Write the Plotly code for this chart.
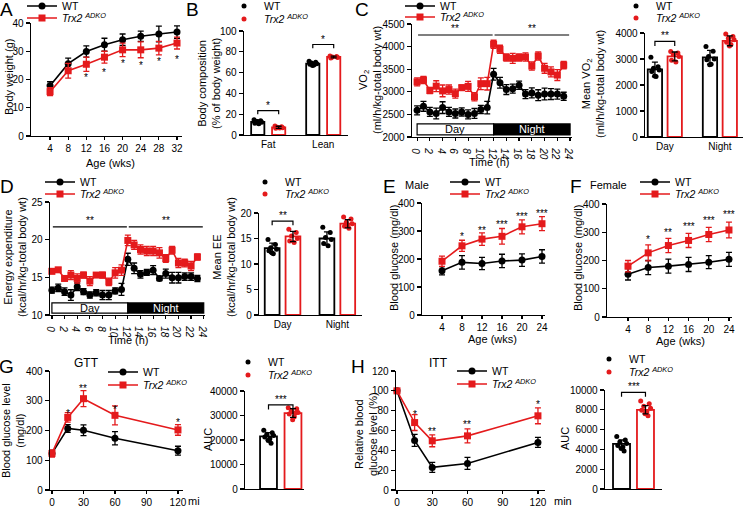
import plotly.graph_objects as go

W, H = 745, 509
FONT = "Arial, 'Liberation Sans', Helvetica, sans-serif"
RED = "#E41A1C"
KO = "<i>Trx2</i> <sup><i>ADKO</i></sup>"

# ---------------- A: body weight ----------------
age_wks = [4, 8, 12, 16, 20, 24, 28, 32]
bw_wt = [17.8, 25.6, 29.9, 32.3, 34.1, 35.3, 36.1, 36.8]
bw_wt_err = [1.4, 2.0, 2.0, 2.3, 2.0, 1.8, 2.8, 2.2]
bw_ko = [15.7, 23.1, 25.4, 27.9, 30.5, 30.5, 31.1, 32.9]
bw_ko_err = [1.4, 2.6, 2.5, 2.1, 2.4, 2.8, 2.4, 2.1]
bw_sig_x = [12, 16, 20, 24, 28, 32]
bw_sig_y = [21.3, 23.2, 26.2, 25.8, 27.0, 27.8]
bw_sig = ["*", "*", "*", "*", "*", "*"]

# ---------------- B: body composition ----------------
comp_cats = ["Fat", "Lean"]
comp_wt = [12.5, 68.6]
comp_wt_sd = [1.6, 1.4]
comp_ko = [7.4, 75.0]
comp_ko_sd = [1.0, 0.9]
comp_wt_pts = [[14.6, 13.8, 12.9, 12.2, 11.4, 10.8, 13.0], [71.0, 70.0, 69.2, 68.5, 68.0, 67.2, 66.8]]
comp_ko_pts = [[8.6, 8.0, 7.5, 7.0, 6.6, 6.8], [76.0, 75.5, 75.0, 74.4, 74.0]]
comp_sig = ["*", "*"]
comp_sig_y = [23.5, 87.0]

# ---------------- C / D: hourly time course ----------------
hours = list(range(24))
light_periods = ["Day", "Night"]
light_start = [0, 12]
light_end = [12, 24]
vo2_wt = [2590, 2680, 2555, 2520, 2650, 2555, 2520, 2555, 2500, 2520, 2610, 2650,
          3390, 3200, 3050, 3070, 3145, 2950, 2975, 2925, 2950, 2950, 2950, 2900]
vo2_wt_err = [100, 110, 100, 120, 130, 100, 100, 90, 100, 110, 90, 140,
              130, 120, 110, 100, 90, 100, 110, 120, 130, 120, 110, 90]
vo2_ko = [3220, 3260, 3030, 3125, 3020, 3050, 2960, 3090, 3120, 2890, 3180, 3180,
          4050, 3940, 3760, 3740, 3760, 3770, 3570, 3790, 3520, 3440, 3370, 3590]
vo2_ko_err = [90, 80, 70, 120, 130, 100, 100, 60, 110, 90, 130, 140,
              90, 90, 80, 110, 80, 90, 90, 90, 110, 110, 120, 80]
vo2_period_sig = ["**", "**"]
vo2_period_sig_y = 4257

ee_wt = [13.3, 13.6, 13.1, 12.65, 13.75, 13.1, 12.65, 12.95, 12.65, 12.65, 13.2, 13.4,
         17.4, 16.2, 15.4, 15.65, 15.95, 14.85, 15.5, 14.95, 14.95, 15.1, 15.1, 14.85]
ee_wt_err = [0.4, 0.5, 0.5, 0.7, 0.5, 0.4, 0.4, 0.4, 0.6, 0.6, 0.4, 0.8,
             0.8, 0.7, 0.5, 0.4, 0.6, 0.3, 0.6, 0.7, 0.7, 0.5, 0.5, 0.4]
ee_ko = [15.8, 16.0, 14.85, 15.3, 14.85, 15.3, 14.5, 15.3, 15.3, 14.4, 15.6, 15.95,
         19.9, 19.3, 18.7, 18.5, 18.5, 18.25, 17.5, 18.6, 16.9, 16.9, 16.5, 17.7]
ee_ko_err = [0.3, 0.3, 0.3, 0.6, 0.6, 0.4, 0.6, 0.2, 0.4, 0.5, 0.7, 0.7,
             0.7, 0.6, 0.6, 0.6, 0.6, 0.7, 0.5, 0.5, 0.6, 0.5, 0.6, 0.4]
ee_period_sig = ["**", "**"]
ee_period_sig_y = 21.7

# ---------------- C right: mean VO2 ----------------
vo2m_wt = [2600, 3060]
vo2m_wt_sd = [280, 270]
vo2m_ko = [3100, 3700]
vo2m_ko_sd = [170, 190]
vo2m_wt_pts = [[3070, 2700, 2640, 2580, 2520, 2330, 2350], [3480, 3300, 3100, 3000, 2970, 2800, 2780]]
vo2m_ko_pts = [[3290, 3230, 3160, 3100, 2950, 2880], [3960, 3870, 3800, 3740, 3640, 3560, 3500]]
vo2m_sig = ["**", "**"]
vo2m_sig_y = [3680, 4320]

# ---------------- D right: mean EE ----------------
eem_wt = [13.1, 15.0]
eem_wt_sd = [1.0, 1.3]
eem_ko = [15.4, 17.9]
eem_ko_sd = [1.0, 0.8]
eem_wt_pts = [[14.8, 13.8, 13.2, 12.9, 12.6, 12.0, 12.2], [17.2, 16.2, 15.2, 14.8, 14.0, 13.6]]
eem_ko_pts = [[16.8, 16.2, 15.5, 15.0, 14.5, 14.2], [19.2, 18.8, 18.2, 17.9, 17.4, 17.0, 17.7]]
eem_sig = ["**", "**"]
eem_sig_y = [18.4, 21.7]

# ---------------- E / F: blood glucose ----------------
age_bg = [4, 8, 12, 16, 20, 24]
male_wt = [158, 188, 184, 193, 196, 209]
male_wt_err = [15, 24, 22, 24, 22, 24]
male_ko = [192, 247, 271, 281, 315, 326]
male_ko_err = [18, 20, 22, 28, 25, 25]
male_sig_x = [8, 12, 16, 20, 24]
male_sig = ["*", "**", "***", "***", "***"]
male_sig_y = [288, 309, 330, 358, 368]
female_wt = [151, 175, 180, 186, 194, 204]
female_wt_err = [20, 25, 25, 25, 23, 25]
female_ko = [180, 227, 253, 271, 292, 308]
female_ko_err = [20, 28, 25, 25, 25, 28]
female_sig_x = [8, 12, 16, 20, 24]
female_sig = ["*", "**", "***", "***", "***"]
female_sig_y = [282, 305, 329, 349, 369]

# ---------------- G: GTT ----------------
gtt_t = [0, 15, 30, 60, 120]
gtt_wt = [123, 207, 201, 174, 132]
gtt_wt_err = [10, 13, 18, 22, 15]
gtt_ko = [123, 244, 307, 251, 202]
gtt_ko_err = [12, 16, 27, 32, 18]
gtt_sig_x = [15, 30, 60, 120]
gtt_sig = ["*", "**", "*", "*"]
gtt_sig_y = [263, 347, 279, 235]
gtt_auc_wt = [21500]
gtt_auc_wt_sd = [1500]
gtt_auc_ko = [31000]
gtt_auc_ko_sd = [1800]
gtt_auc_wt_pts = [[24000, 23000, 22300, 21800, 21200, 20500, 19800, 18700]]
gtt_auc_ko_pts = [[33200, 32800, 31800, 31200, 30600, 29500, 28300, 31000]]
gtt_auc_sig = ["***"]
gtt_auc_sig_y = [34300]

# ---------------- H: ITT ----------------
itt_t = [0, 15, 30, 60, 120]
itt_wt = [100, 50, 22.8, 26.8, 48]
itt_wt_err = [0, 6, 5, 6, 5]
itt_ko = [100, 68, 49.6, 54.6, 74.8]
itt_ko_err = [0, 8, 6, 7, 8]
itt_sig_x = [15, 30, 60, 120]
itt_sig = ["*", "**", "**", "*"]
itt_sig_y = [78, 60.7, 68, 88]
itt_auc_wt = [4550]
itt_auc_wt_sd = [400]
itt_auc_ko = [8000]
itt_auc_ko_sd = [420]
itt_auc_wt_pts = [[5300, 4950, 4750, 4600, 4400, 4250, 4100, 3850]]
itt_auc_ko_pts = [[8900, 8600, 8350, 8150, 7950, 7800, 7600, 7400]]
itt_auc_sig = ["***"]
itt_auc_sig_y = [9760]

# ================= layout helpers =================
JIT = [-0.28, 0.22, -0.1, 0.3, -0.22, 0.08, -0.02, 0.15]

fig = go.Figure()
layout = {}
annotations = []
shapes = []


def names(i):
    return ("x" if i == 1 else f"x{i}", "y" if i == 1 else f"y{i}")


def keys(i):
    return ("xaxis" if i == 1 else f"xaxis{i}", "yaxis" if i == 1 else f"yaxis{i}")


def base_axis():
    return dict(showline=True, linecolor="black", linewidth=1.3, ticks="outside", ticklen=4,
                tickwidth=1.2, tickcolor="black", showgrid=False, zeroline=False,
                tickfont=dict(size=10, color="black", family=FONT), fixedrange=True,
                automargin=False)


def make_axes(i, box, xr, yr, xticks=None, xtext=None, yticks=None, ytickformat=None,
              xtickmarks=True, xlabels=True):
    x0, x1, yt, yb = box
    xk, yk = keys(i)
    xn, yn = names(i)
    xa = base_axis()
    xa.update(domain=[x0 / W, x1 / W], range=xr, anchor=yn, ticklen=3)
    if xticks is not None:
        xa.update(tickmode="array", tickvals=xticks)
        if xtext is not None:
            xa.update(ticktext=xtext)
    if not xtickmarks:
        xa.update(ticks="")
    if not xlabels:
        xa.update(showticklabels=False)
    ya = base_axis()
    ya.update(domain=[1 - yb / H, 1 - yt / H], range=yr, anchor=xn)
    if yticks is not None:
        ya.update(tickmode="array", tickvals=yticks)
    if ytickformat:
        ya.update(tickformat=ytickformat)
    layout[xk] = xa
    layout[yk] = ya


leg_count = [0]


def new_legend(text_x, y_px, kind):
    leg_count[0] += 1
    n = leg_count[0]
    key = "legend" if n == 1 else f"legend{n}"
    layout[key] = dict(x=(text_x - 40) / W, y=1 - y_px / H, xanchor="left", yanchor="middle",
                       bgcolor="rgba(0,0,0,0)", borderwidth=0,
                       font=dict(size=10.5, family=FONT, color="black"),
                       itemclick=False, itemdoubleclick=False)
    return key


def paper_text(x, y, s, size=11, angle=0, color="black", xanchor="center", yanchor="middle"):
    annotations.append(dict(x=x / W, y=1 - y / H, xref="paper", yref="paper", text=s,
                            showarrow=False, textangle=angle, xanchor=xanchor, yanchor=yanchor,
                            font=dict(size=size, family=FONT, color=color)))


def data_text(i, x, y, s, size=10, color="black", yshift=-2, yanchor="middle"):
    xn, yn = names(i)
    annotations.append(dict(x=x, y=y, xref=xn, yref=yn, text=s, showarrow=False,
                            xanchor="center", yanchor=yanchor, yshift=yshift,
                            font=dict(size=size, family=FONT, color=color)))


def line_series(i, x, y, err, color, symbol, name, legend):
    xn, yn = names(i)
    fig.add_scatter(x=x, y=y, mode="lines+markers", name=name, legend=legend,
                    line=dict(color=color, width=1.6),
                    marker=dict(color=color, size=7, symbol=symbol),
                    error_y=dict(type="data", array=err, color=color, thickness=1.3, width=3),
                    xaxis=xn, yaxis=yn, cliponaxis=False, hoverinfo="skip")


def bar_group(i, centers, off, bw, means, sds, pts, color, name, legend):
    xn, yn = names(i)
    xs = [c + off for c in centers]
    fig.add_bar(x=xs, y=means, width=bw, marker=dict(color="white", line=dict(color=color, width=1.8)),
                xaxis=xn, yaxis=yn, showlegend=False, hoverinfo="skip")
    px, py = [], []
    for c, vals in zip(xs, pts):
        for j, v in enumerate(vals):
            px.append(c + JIT[j % len(JIT)] * bw)
            py.append(v)
    fig.add_scatter(x=px, y=py, mode="markers", marker=dict(color=color, size=5),
                    name=name, legend=legend, xaxis=xn, yaxis=yn, cliponaxis=False, hoverinfo="skip")
    fig.add_scatter(x=xs, y=means, mode="markers", marker=dict(size=0.1, color=color, opacity=0),
                    error_y=dict(type="data", array=sds, color="black", thickness=1.3, width=3),
                    xaxis=xn, yaxis=yn, showlegend=False, hoverinfo="skip", cliponaxis=False)


def bracket(i, xa, xb, ytop, legh, label):
    xn, yn = names(i)
    fig.add_scatter(x=[xa, xa, xb, xb], y=[ytop - legh, ytop, ytop, ytop - legh], mode="lines",
                    line=dict(color="black", width=1.2), xaxis=xn, yaxis=yn,
                    showlegend=False, hoverinfo="skip", cliponaxis=False)
    data_text(i, (xa + xb) / 2, ytop, label, yanchor="bottom", yshift=-2)


def bar_panel(i, centers, off, bw, wt, wt_sd, wt_pts, ko, ko_sd, ko_pts, sig, sig_y, legh,
              leg_x, leg_y1, leg_y2):
    l1 = new_legend(leg_x, leg_y1, "dot")
    l2 = new_legend(leg_x, leg_y2, "dot")
    bar_group(i, centers, -off, bw, wt, wt_sd, wt_pts, "black", "WT", l1)
    bar_group(i, centers, off, bw, ko, ko_sd, ko_pts, RED, KO, l2)
    for c, s, yv in zip(centers, sig, sig_y):
        bracket(i, c - off, c + off, yv, legh, s)


def period_bar(i, ylo, yhi, ysig, sigs):
    xn, yn = names(i)
    for p, s0, s1, s in zip(light_periods, light_start, light_end, sigs):
        dark = p == "Night"
        shapes.append(dict(type="rect", xref=xn, yref=yn, x0=s0, x1=s1, y0=ylo, y1=yhi,
                           fillcolor="black" if dark else "white",
                           line=dict(color="black", width=1.2), layer="above"))
        data_text(i, (s0 + s1) / 2, (ylo + yhi) / 2, p, size=11,
                  color="white" if dark else "black", yshift=0)
        fig.add_scatter(x=[s0 + 0.15, s1 - 0.15], y=[ysig, ysig], mode="lines",
                        line=dict(color="black", width=1.2), xaxis=xn, yaxis=yn,
                        showlegend=False, hoverinfo="skip", cliponaxis=False)
        data_text(i, (s0 + s1) / 2, ysig, s, yanchor="bottom", yshift=-1)


# ================= Panel A =================
make_axes(1, (31, 182, 23, 136), [-0.2, 33.1], [0, 40], xticks=age_wks, yticks=[0, 10, 20, 30, 40])
la, lb = new_legend(62, 6, "line"), new_legend(62, 18, "line")
line_series(1, age_wks, bw_wt, bw_wt_err, "black", "circle", "WT", la)
line_series(1, age_wks, bw_ko, bw_ko_err, RED, "square", KO, lb)
for x, y, s in zip(bw_sig_x, bw_sig_y, bw_sig):
    data_text(1, x, y, s)
paper_text(9, 77, "Body weight (g)", angle=-90)
paper_text(110, 163, "Age (wks)")
paper_text(7, 10, "A", size=19)

# ================= Panel B =================
make_axes(2, (244, 348, 31, 135), [-0.44, 1.45], [0, 100], xticks=[0, 1], xtext=comp_cats,
          yticks=[0, 20, 40, 60, 80, 100], xtickmarks=False)
bar_panel(2, [0, 1], 0.19, 0.24, comp_wt, comp_wt_sd, comp_wt_pts, comp_ko, comp_ko_sd, comp_ko_pts,
          comp_sig, comp_sig_y, 3.5, 264, 6, 19)
paper_text(209, 84, "Body composition<br>(% of body weight)", angle=-90)
paper_text(192, 10, "B", size=19)

# ================= Panel C =================
ct = list(range(0, 25, 2))
make_axes(3, (412, 572, 24, 137), [-0.8, 24.3], [2000, 4500], xticks=ct,
          xtext=[f"<i>{v}</i>" for v in ct], yticks=list(range(2000, 4501, 500)))
lc1, lc2 = new_legend(440, 6, "line"), new_legend(440, 17, "line")
line_series(3, hours, vo2_wt, vo2_wt_err, "black", "circle", "WT", lc1)
line_series(3, hours, vo2_ko, vo2_ko_err, RED, "square", KO, lc2)
period_bar(3, 2045, 2290, vo2_period_sig_y, vo2_period_sig)
paper_text(370, 80, "VO<sub>2</sub><br>(ml/h/kg-total body wt)", angle=-90)
paper_text(489, 162, "Time (h)")
paper_text(362, 10, "C", size=19)

# ================= Panel C right =================
make_axes(4, (645, 743, 33, 137), [-0.36, 1.42], [0, 4000], xticks=[0, 1], xtext=light_periods,
          yticks=[0, 1000, 2000, 3000, 4000], xtickmarks=False)
bar_panel(4, [0, 1], 0.18, 0.26, vo2m_wt, vo2m_wt_sd, vo2m_wt_pts, vo2m_ko, vo2m_ko_sd, vo2m_ko_pts,
          vo2m_sig, vo2m_sig_y, 180, 656, 6, 18)
paper_text(593, 84, "Mean VO<sub>2</sub><br>(ml/h/kg-total body wt)", angle=-90)

# ================= Panel D =================
make_axes(5, (50, 205, 202, 315), [-0.3, 24.2], [10, 25], xticks=ct,
          xtext=[f"<i>{v}</i>" for v in ct], yticks=[10, 15, 20, 25])
ld1, ld2 = new_legend(80, 182, "line"), new_legend(80, 194, "line")
line_series(5, hours, ee_wt, ee_wt_err, "black", "circle", "WT", ld1)
line_series(5, hours, ee_ko, ee_ko_err, RED, "square", KO, ld2)
period_bar(5, 10.25, 11.6, ee_period_sig_y, ee_period_sig)
paper_text(15, 257, "Energy expenditure<br>(kcal/hr/kg-total body wt)", angle=-90)
paper_text(128, 340, "Time (h)")
paper_text(7, 186, "D", size=19)

# ================= Panel D right =================
make_axes(6, (259, 362, 213, 315), [-0.43, 1.45], [0, 20], xticks=[0, 1], xtext=light_periods,
          yticks=[0, 5, 10, 15, 20], xtickmarks=False)
bar_panel(6, [0, 1], 0.19, 0.27, eem_wt, eem_wt_sd, eem_wt_pts, eem_ko, eem_ko_sd, eem_ko_pts,
          eem_sig, eem_sig_y, 0.8, 285, 182, 194)
paper_text(224, 257, "Mean EE<br>(kcal/hr/kg-total body wt)", angle=-90)

# ================= Panel E =================
make_axes(7, (422, 545, 203, 315), [0, 24.6], [0, 400], xticks=age_bg, yticks=[0, 100, 200, 300, 400])
le1, le2 = new_legend(485, 182, "line"), new_legend(485, 194, "line")
line_series(7, age_bg, male_wt, male_wt_err, "black", "circle", "WT", le1)
line_series(7, age_bg, male_ko, male_ko_err, RED, "square", KO, le2)
for x, y, s in zip(male_sig_x, male_sig_y, male_sig):
    data_text(7, x, y, s)
paper_text(394, 258, "Blood glucose (mg/dl)", angle=-90)
paper_text(492, 339, "Age (wks)")
paper_text(403, 185, "Male", xanchor="left")
paper_text(389, 186, "E", size=19)

# ================= Panel F =================
make_axes(8, (607, 732, 204, 317), [-0.16, 24.6], [0, 400], xticks=age_bg, yticks=[0, 100, 200, 300, 400])
lf1, lf2 = new_legend(675, 182, "line"), new_legend(675, 194, "line")
line_series(8, age_bg, female_wt, female_wt_err, "black", "circle", "WT", lf1)
line_series(8, age_bg, female_ko, female_ko_err, RED, "square", KO, lf2)
for x, y, s in zip(female_sig_x, female_sig_y, female_sig):
    data_text(8, x, y, s)
paper_text(578, 258, "Blood glucose (mg/dl)", angle=-90)
paper_text(680, 341, "Age (wks)")
paper_text(588, 185, "Female", xanchor="left")
paper_text(576, 186, "F", size=19)

# ================= Panel G =================
make_axes(9, (50, 183, 371, 490), [-1.9, 124.8], [0, 400], xticks=[0, 30, 60, 90, 120],
          yticks=[0, 100, 200, 300, 400])
lg1, lg2 = new_legend(143, 372, "line"), new_legend(143, 385, "line")
line_series(9, gtt_t, gtt_wt, gtt_wt_err, "black", "circle", "WT", lg1)
line_series(9, gtt_t, gtt_ko, gtt_ko_err, RED, "square", KO, lg2)
for x, y, s in zip(gtt_sig_x, gtt_sig_y, gtt_sig):
    data_text(9, x, y, s)
paper_text(13, 431, "Blood glucose level<br>(mg/dl)", angle=-90)
paper_text(86, 363, "GTT", size=12)
paper_text(186, 501, "mi", xanchor="left")
paper_text(7, 366, "G", size=19)

# ================= Panel G right (AUC) =================
make_axes(10, (245, 304, 391, 489), [-0.96, 1.45], [0, 40000], xticks=[0.5], xtext=[""],
          yticks=[0, 10000, 20000, 30000, 40000], ytickformat="d", xtickmarks=False, xlabels=False)
bar_panel(10, [0.5], 0.5, 0.69, gtt_auc_wt, gtt_auc_wt_sd, gtt_auc_wt_pts, gtt_auc_ko, gtt_auc_ko_sd,
          gtt_auc_ko_pts, gtt_auc_sig, gtt_auc_sig_y, 1800, 268, 362, 375)
paper_text(208, 439, "AUC", angle=-90)

# ================= Panel H =================
make_axes(11, (396, 545, 371, 490), [-0.85, 126], [0, 120], xticks=[0, 30, 60, 90, 120],
          yticks=[0, 20, 40, 60, 80, 100, 120])
lh1, lh2 = new_legend(492, 371, "line"), new_legend(492, 384, "line")
line_series(11, itt_t, itt_wt, itt_wt_err, "black", "circle", "WT", lh1)
line_series(11, itt_t, itt_ko, itt_ko_err, RED, "square", KO, lh2)
for x, y, s in zip(itt_sig_x, itt_sig_y, itt_sig):
    data_text(11, x, y, s)
paper_text(366, 434, "Relative blood<br>glucose level (%)", angle=-90)
paper_text(438, 363, "ITT", size=12)
paper_text(552, 501, "min", xanchor="left")
paper_text(358, 366, "H", size=19)

# ================= Panel H right (AUC) =================
make_axes(12, (605, 662, 390, 489), [-0.69, 1.69], [0, 10000], xticks=[0.5], xtext=[""],
          yticks=[0, 2000, 4000, 6000, 8000, 10000], ytickformat="d", xtickmarks=False, xlabels=False)
bar_panel(12, [0.5], 0.5, 0.71, itt_auc_wt, itt_auc_wt_sd, itt_auc_wt_pts, itt_auc_ko, itt_auc_ko_sd,
          itt_auc_ko_pts, itt_auc_sig, itt_auc_sig_y, 430, 629, 359, 372)
paper_text(565, 439, "AUC", angle=-90)

fig.update_layout(
    width=W, height=H, autosize=False,
    margin=dict(l=0, r=0, t=0, b=0, pad=0, autoexpand=False),
    paper_bgcolor="white", plot_bgcolor="rgba(0,0,0,0)",
    font=dict(family=FONT, size=11, color="black"),
    barmode="overlay", hovermode=False,
    annotations=annotations, shapes=shapes,
    **layout,
)
fig.write_html("out.html", config={"displayModeBar": False, "staticPlot": True},
               post_script="document.body.style.margin='0px';")
